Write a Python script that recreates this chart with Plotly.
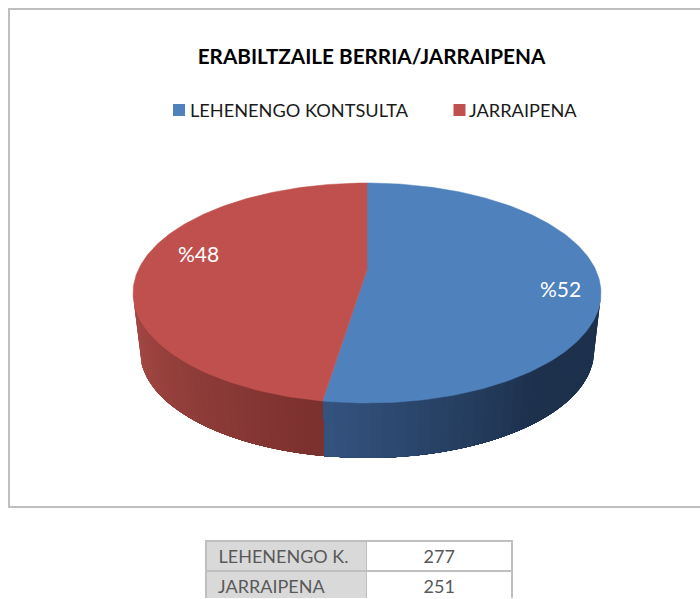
import math
import plotly.graph_objects as go

categories = ["LEHENENGO KONTSULTA", "JARRAIPENA"]
table_labels = ["LEHENENGO K.", "JARRAIPENA"]
values = [277, 251]
title_text = "ERABILTZAILE BERRIA/JARRAIPENA"

W, H = 700, 599
FONT = "Lato, Carlito, Calibri, sans-serif"
top_colors = ["#4F81BD", "#C0504D"]
side_light = [(52, 84, 128), (168, 74, 70)]
side_dark = [(29, 49, 77), (122, 48, 46)]

# Projective disc: screen placement of the pie's top and bottom faces
CX, P = 367.0, 0.209
TOP = dict(y0=270.0, a=105.2, b=228.8)
BOT = dict(y0=329.0, a=102.0, b=222.0)


def project(face, t):
    u, v = math.sin(t), -math.cos(t)
    d = 1 - P * v
    return CX + face["b"] * u / d, face["y0"] + face["a"] * v / d


def frange(a, b, n):
    return [a + (b - a) * i / n for i in range(n + 1)]


def mix(c1, c2, f):
    return "rgb(%d,%d,%d)" % tuple(round(p + (q - p) * f) for p, q in zip(c1, c2))


total = sum(values)
split = 2 * math.pi * values[0] / total
vis_r, vis_l = math.radians(102), math.radians(258)

fig = go.Figure()


def wall(t0, t1, color):
    # Each band runs on to the end of its slice's wall; later bands paint over it, so no seams show
    arc = frange(t0, t1, 40)
    pts = [project(TOP, t) for t in arc] + [project(BOT, t) for t in reversed(arc)]
    pts.append(pts[0])
    fig.add_trace(go.Scatter(
        x=[p[0] for p in pts], y=[p[1] for p in pts], mode="lines", fill="toself",
        fillcolor=color, line=dict(width=0), hoverinfo="skip", showlegend=False))


# Side walls with stepped shading
N = 36
for i in range(N):
    t0 = vis_r + (split - vis_r) * i / N
    f = max(0.0, (i / N - 0.45) / 0.55)  # dark plateau on the right, lighter towards the split
    wall(t0, split, mix(side_dark[0], side_light[0], f))
for i in range(N):
    t1 = vis_l + (split - vis_l) * i / N
    wall(split, t1, mix(side_light[1], side_dark[1], i / N))

# Top faces
apex = (CX, TOP["y0"])
for (a0, a1, col) in [(0.0, split, top_colors[0]), (split, 2 * math.pi, top_colors[1])]:
    pts = [apex] + [project(TOP, t) for t in frange(a0, a1, 180)] + [apex]
    fig.add_trace(go.Scatter(
        x=[p[0] for p in pts], y=[p[1] for p in pts], mode="lines", fill="toself",
        fillcolor=col, line=dict(color=col, width=0.5), hoverinfo="skip", showlegend=False))

# Legend keys (square marker plus label placed beside it)
legend_key_x = [179, 459.5]
legend_text_x = [190, 469]
fig.add_trace(go.Scatter(
    x=legend_key_x, y=[110, 110], mode="markers", showlegend=False, hoverinfo="skip",
    marker=dict(symbol="square", size=12, color=top_colors, line=dict(width=0))))

# Table
fig.add_trace(go.Table(
    domain=dict(x=[206 / W, 512 / W], y=[0, 1 - 541 / H]),
    columnwidth=[160, 145],
    header=dict(
        values=[[table_labels[0]], [str(values[0])]], height=30, prefix=["\u2009", ""],
        fill_color=["#D9D9D9", "#FFFFFF"], line=dict(color="#BFBFBF", width=1.5),
        align=["left", "center"], font=dict(family=FONT, size=18, color="#595959")),
    cells=dict(
        values=[[table_labels[1]], [str(values[1])]], height=30, prefix=["\u00a0", ""],
        fill_color=["#D9D9D9", "#FFFFFF"], line=dict(color="#BFBFBF", width=1.5),
        align=["left", "center"], font=dict(family=FONT, size=18, color="#595959")),
))

percent = [f"%{round(v / total * 100)}" for v in values]
annotations = [
    dict(x=560, y=288, text=percent[0], showarrow=False, xref="x", yref="y",
         font=dict(family=FONT, size=21, color="white")),
    dict(x=198.5, y=253, text=percent[1], showarrow=False, xref="x", yref="y",
         font=dict(family=FONT, size=21, color="white")),
]
for name, tx in zip(categories, legend_text_x):
    annotations.append(dict(x=tx, y=110, text=name, showarrow=False, xref="x", yref="y",
                            xanchor="left", xshift=-2,
                            font=dict(family=FONT, size=18.2, color="#1A1A1A")))

fig.update_layout(
    width=W, height=H, margin=dict(l=0, r=0, t=0, b=0),
    paper_bgcolor="white", plot_bgcolor="white",
    title=dict(text=f"<b>{title_text}</b>", x=371.5 / W, xanchor="center", y=1 - 57 / H, yanchor="middle",
               font=dict(family=FONT, size=20.7, color="black")),
    xaxis=dict(range=[0, W], visible=False, fixedrange=True),
    yaxis=dict(range=[H, 0], visible=False, fixedrange=True),
    showlegend=False,
    annotations=annotations,
    shapes=[dict(type="rect", xref="x", yref="y", x0=9, y0=9, x1=720, y1=507,
                 line=dict(color="#BFBFBF", width=2), fillcolor="rgba(0,0,0,0)", layer="below")],
)

fig.write_html("out.html", config=dict(displayModeBar=False),
               post_script="document.body.style.margin='0';document.documentElement.style.overflow='hidden';")
